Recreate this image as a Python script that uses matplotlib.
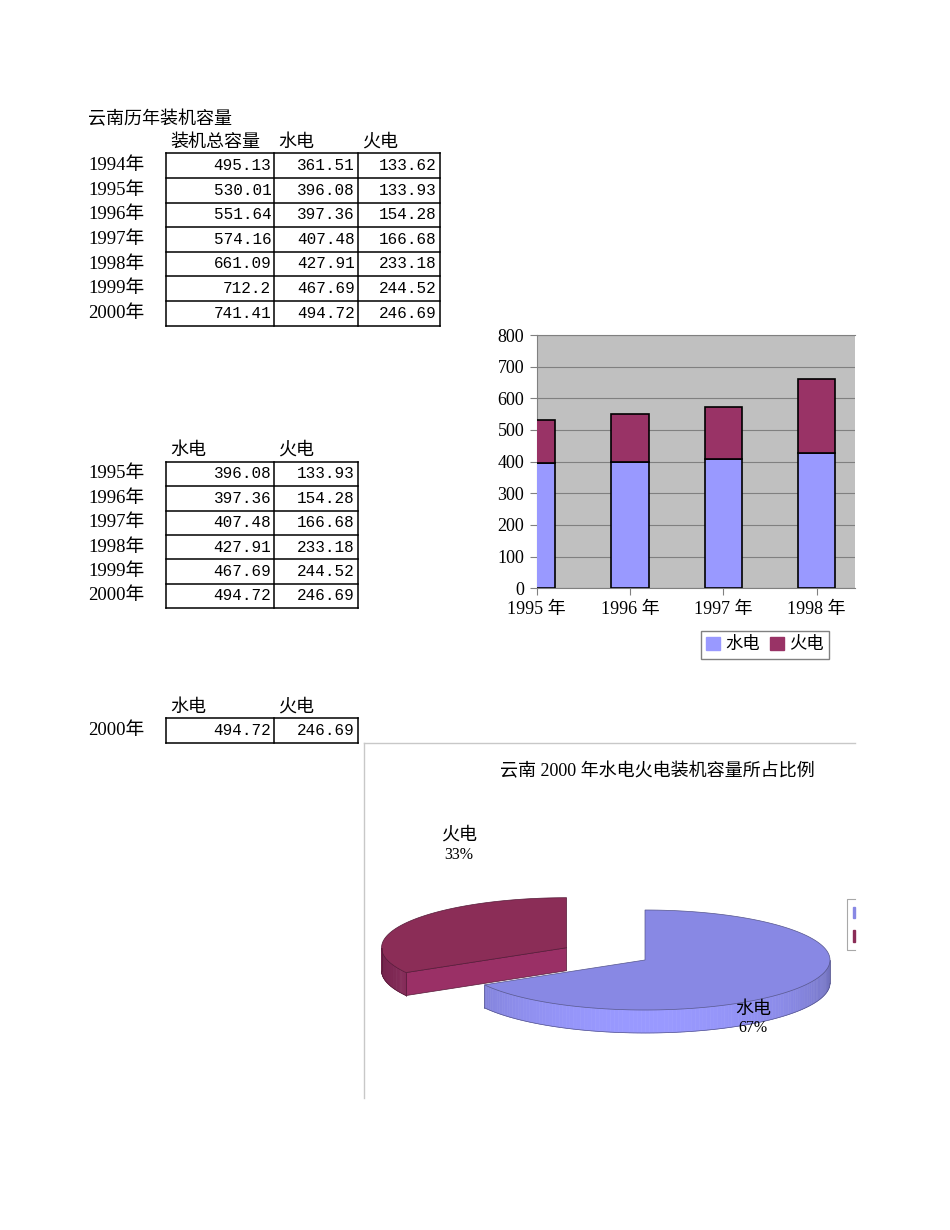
import numpy as np
import matplotlib.pyplot as plt
import matplotlib.colors as mcolors
from matplotlib.patches import Polygon, Rectangle, Patch

plt.rcParams['font.family'] = ['Liberation Serif', 'Noto Sans CJK SC']

# data
years = ['1994年', '1995年', '1996年', '1997年', '1998年', '1999年', '2000年']
total = [495.13, 530.01, 551.64, 574.16, 661.09, 712.2, 741.41]
hydro = [361.51, 396.08, 397.36, 407.48, 427.91, 467.69, 494.72]
thermal = [133.62, 133.93, 154.28, 166.68, 233.18, 244.52, 246.69]
bar_labels = ['1995 年', '1996 年', '1997 年', '1998 年', '1999 年', '2000 年']
series_names = ['水电', '火电']
pie_values = [hydro[-1], thermal[-1]]

C_HYDRO = '#9999FF'
C_THERMAL = '#993366'

fig = plt.figure(figsize=(9.5, 12.3), dpi=100)

# page axes in pixel coordinates (y down)
page = fig.add_axes([0, 0, 1, 1], zorder=2)
page.set_xlim(0, 950)
page.set_ylim(1230, 0)
page.axis('off')


def table(top, row_h, cols, row_labels, columns):
    n = len(row_labels)
    bottom = top + n * row_h
    for i in range(n + 1):
        page.plot([cols[0], cols[-1]], [top + i * row_h] * 2, color='black', lw=1.1)
    for x in cols:
        page.plot([x, x], [top, bottom], color='black', lw=1.1)
    for i, lab in enumerate(row_labels):
        y = top + (i + 0.5) * row_h
        page.text(88, y, lab, fontsize=13.5, va='center')
        for j, col in enumerate(columns):
            page.text(cols[j + 1] - 3, y, str(col[i]), ha='right', va='center',
                      family='Liberation Mono', fontsize=11.5)


# table 1
page.text(88, 120, '云南历年装机容量', fontsize=13, va='center')
for x, h in zip([170, 278, 362], ['装机总容量'] + series_names):
    page.text(x, 142, h, fontsize=13, va='center')
table(153.3, 24.6, [166, 274.3, 357.7, 440], years, [total, hydro, thermal])

# table 2
for x, h in zip([170, 278], series_names):
    page.text(x, 450, h, fontsize=13, va='center')
table(461.7, 24.4, [166, 274.3, 357.7], years[1:], [hydro[1:], thermal[1:]])

# table 3
for x, h in zip([170, 278], series_names):
    page.text(x, 707, h, fontsize=13, va='center')
table(718.3, 25, [166, 274.3, 357.7], years[-1:], [hydro[-1:], thermal[-1:]])

# stacked bar chart (cut off at the right like the sheet)
bx0, bx1, by0, by1 = 536.7, 855, 335, 588.3
bar_ax = fig.add_axes([bx0 / 950, 1 - by1 / 1230, (bx1 - bx0) / 950, (by1 - by0) / 1230], zorder=1)
x = np.arange(len(bar_labels))
bar_ax.bar(x, hydro[1:], 0.4, color=C_HYDRO, edgecolor='black', lw=1.2, zorder=3)
bar_ax.bar(x, thermal[1:], 0.4, bottom=hydro[1:], color=C_THERMAL, edgecolor='black', lw=1.2, zorder=3)
bar_ax.set_facecolor('#C0C0C0')
bar_ax.set_yticks(range(0, 801, 100))
bar_ax.set_xticks(x, bar_labels)
bar_ax.set_xlim(0, 3.41)
bar_ax.set_ylim(0, 800)
bar_ax.grid(axis='y', color='#808080', lw=0.8)
bar_ax.set_axisbelow(True)
bar_ax.spines['right'].set_visible(False)
for s in ['left', 'bottom', 'top']:
    bar_ax.spines[s].set_color('#808080')
bar_ax.tick_params(labelsize=13, length=5, color='#808080', pad=4)
bar_ax.legend([Patch(color=C_HYDRO), Patch(color=C_THERMAL)], series_names,
              loc='center', bbox_to_anchor=(765 / 950, 1 - 645 / 1230),
              bbox_transform=fig.transFigure, ncol=2, fancybox=False,
              edgecolor='#808080', framealpha=1, fontsize=12.5,
              handlelength=0.8, handleheight=0.8, handletextpad=0.3,
              columnspacing=0.6, borderpad=0.3, borderaxespad=0)

# 3d pie chart
page.plot([364, 364], [743, 1098], color='#C8C8C8', lw=1)
page.plot([364, 855], [743, 743], color='#C8C8C8', lw=1)
page.text(657, 772, '云南 2000 年水电火电装机容量所占比例', ha='center', va='center', fontsize=13)

A, B, DEPTH = 185, 50, 23


def ell(cx, cy, t):
    return cx + A * np.cos(t), cy - B * np.sin(t)


def shade(color, f):
    r, g, b = mcolors.to_rgb(color)
    return (r * f, g * f, b * f)


def slice3d(cx, cy, lo_deg, hi_deg, top_color, side_color):
    lo, hi = np.radians(lo_deg), np.radians(hi_deg)
    edge = shade(side_color, 0.55)
    # flat radial faces
    for t, normal in ((lo, lo - np.pi / 2), (hi, hi + np.pi / 2)):
        if np.sin(normal) < -1e-6:
            px, py = ell(cx, cy, t)
            page.add_patch(Polygon([(cx, cy), (px, py), (px, py + DEPTH), (cx, cy + DEPTH)],
                                   closed=True, fc=side_color, ec=edge, lw=0.5))
    # curved rim
    ts = np.linspace(lo, hi, 200)
    for t0, t1 in zip(ts[:-1], ts[1:]):
        tm = (t0 + t1) / 2
        if np.sin(tm) >= 0:
            continue
        f = 0.72 + 0.28 * (-np.sin(tm))
        x0, y0 = ell(cx, cy, t0)
        x1, y1 = ell(cx, cy, t1)
        c = shade(side_color, f)
        page.add_patch(Polygon([(x0, y0), (x1, y1), (x1, y1 + DEPTH), (x0, y0 + DEPTH)],
                               closed=True, fc=c, ec=c, lw=0.4))
    vis = ts[np.sin(ts) < 0]
    if len(vis):
        vx, vy = ell(cx, cy, vis)
        page.plot(vx, vy + DEPTH, color=edge, lw=0.5)
        page.plot([vx[0], vx[0]], [vy[0], vy[0] + DEPTH], color=edge, lw=0.5)
        page.plot([vx[-1], vx[-1]], [vy[-1], vy[-1] + DEPTH], color=edge, lw=0.5)
    # top face
    ax_, ay_ = ell(cx, cy, ts)
    pts = [(cx, cy)] + list(zip(ax_, ay_))
    page.add_patch(Polygon(pts, closed=True, fc=top_color, ec=edge, lw=0.5))


frac = np.array(pie_values) / sum(pie_values)
cx0, cy0 = 645, 960
hydro_lo, hydro_hi = 90 - 360 * frac[0], 90
therm_lo, therm_hi = 90, 90 + 360 * frac[1]
mid = np.radians((therm_lo + therm_hi) / 2)
explode = 0.49
tcx = cx0 + A * explode * np.cos(mid)
tcy = cy0 - B * explode * np.sin(mid)

slice3d(tcx, tcy, therm_lo, therm_hi, '#8B2D57', '#9A3066')
slice3d(cx0, cy0, hydro_lo, hydro_hi, '#8888E4', '#9999FF')

pcts = [int(round(100 * f)) for f in frac]
page.text(459, 835, series_names[1], ha='center', va='center', fontsize=13)
page.text(459, 855, f'{pcts[1]}%', ha='center', va='center', fontsize=11.5)
page.text(753, 1009, series_names[0], ha='center', va='center', fontsize=13)
page.text(753, 1028, f'{pcts[0]}%', ha='center', va='center', fontsize=11.5)

# pie legend, cut off by the sheet edge
page.plot([855, 847, 847, 855], [899, 899, 950, 950], color='#A8A8A8', lw=0.8)
page.add_patch(Rectangle((852.5, 907), 2.5, 11, color='#8888E4'))
page.add_patch(Rectangle((852.5, 930), 2.5, 12, color='#8B2D57'))

fig.savefig('out.png', dpi=100)
